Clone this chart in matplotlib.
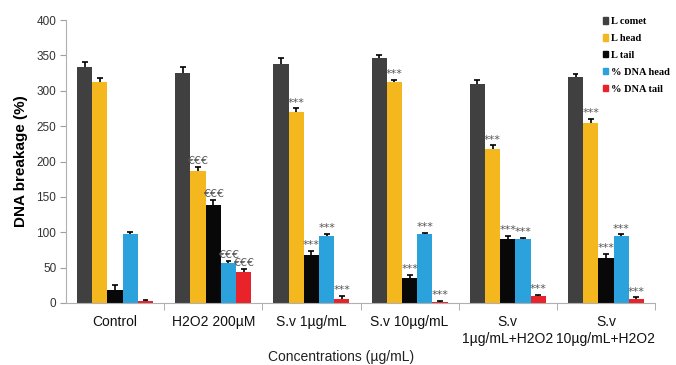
import numpy as np
import matplotlib
matplotlib.use("Agg")
from matplotlib import pyplot as plt
from matplotlib.patches import Patch

groups = ["Control", "H2O2 200\u00b5M", "S.v 1\u00b5g/mL", "S.v 10\u00b5g/mL",
          "S.v\n1\u00b5g/mL+H2O2", "S.v\n10\u00b5g/mL+H2O2"]
series = ["L comet", "L head", "L tail", "% DNA head", "% DNA tail"]
colors = ["#404040", "#F4B71E", "#080808", "#2CA2DC", "#E8232A"]

l_comet = [333, 325, 338, 346, 310, 319]
l_head = [313, 186, 270, 312, 218, 254]
l_tail = [19, 138, 68, 35, 91, 64]
dna_head = [98, 56, 94, 97, 90, 94]
dna_tail = [3, 44, 6, 2, 10, 6]

err_comet = [8, 8, 8, 4, 5, 5]
err_head = [5, 6, 5, 3, 5, 6]
err_tail = [7, 8, 6, 5, 4, 5]
err_dna_head = [2, 4, 4, 2, 2, 3]
err_dna_tail = [1, 4, 4, 1, 1, 2]

# significance marks per group (comet never marked)
marks = ["", "\u20ac\u20ac\u20ac", "***", "***", "***", "***"]

values = [l_comet, l_head, l_tail, dna_head, dna_tail]
errors = [err_comet, err_head, err_tail, err_dna_head, err_dna_tail]

fig = plt.figure(figsize=(6.76, 3.65), dpi=100)
ax = fig.add_axes([0.0976, 0.170, 0.8714, 0.775])

x = np.arange(len(groups))
w = 0.155
for i in range(len(series)):
    pos = x + (i - 2) * w
    vals = np.array(values[i])
    tops = vals + np.array(errors[i])
    ax.bar(pos, vals, w, color=colors[i], zorder=2)
    # one-sided error bars, cap only on top
    ax.vlines(pos, vals, tops, color="black", lw=1.2, zorder=3)
    ax.hlines(tops, pos - 0.03, pos + 0.03, color="black", lw=1.2, zorder=3)
    if i > 0:
        for j in range(len(x)):
            if marks[j]:
                ax.text(pos[j], tops[j] + 1, marks[j],
                        ha="center", va="bottom", fontsize=8, color="#555555",
                        family="DejaVu Sans")

ax.set_xlim(-0.5, 5.5)
ax.set_ylim(0, 400)
ax.set_yticks(range(0, 401, 50))
ax.set_xticks(x)
ax.set_xticklabels(groups, fontsize=10, family="Liberation Sans", color="#111111")
ax.set_xticks(np.arange(0.5, 6, 1), minor=True)
ax.tick_params(axis="x", which="major", length=0, pad=9)
ax.tick_params(axis="x", which="minor", length=5, color="#a0a0a0", direction="out")
ax.tick_params(axis="y", length=4, color="#a0a0a0", labelsize=8.5, labelcolor="#333333", pad=3)
for lbl in ax.get_yticklabels():
    lbl.set_family("Liberation Sans")

for s in ["top", "right"]:
    ax.spines[s].set_visible(False)
ax.spines["left"].set_color("#b0b0b0")
ax.spines["bottom"].set_color("#b0b0b0")

ax.set_ylabel("DNA breakage (%)", fontsize=11, fontweight="bold",
              family="Liberation Sans", labelpad=6)
fig.text(0.505, 0.022, "Concentrations (\u00b5g/mL)", ha="center", va="center",
         fontsize=10, family="Liberation Sans", color="#222222")

handles = [Patch(color=c) for c in colors]
leg = ax.legend(handles, series, loc="upper left", bbox_to_anchor=(0.895, 1.043),
                frameon=False, prop={"family": "Liberation Serif", "weight": "bold", "size": 7.5},
                handlelength=0.55, handleheight=0.55, handletextpad=0.3, labelspacing=0.75)

fig.savefig("out.png", dpi=100)
